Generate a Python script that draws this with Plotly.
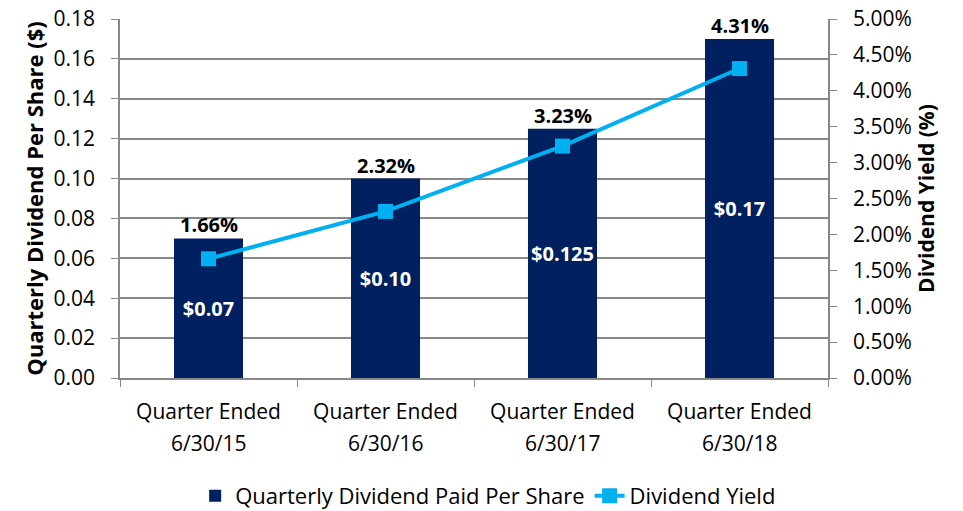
import plotly.graph_objects as go

quarter_dates = ["6/30/15", "6/30/16", "6/30/17", "6/30/18"]
tick_prefix = "Quarter Ended"
dividend = [0.07, 0.10, 0.125, 0.17]
dividend_labels = ["$0.07", "$0.10", "$0.125", "$0.17"]
yield_pct = [1.66, 2.32, 3.23, 4.31]
yield_labels = ["1.66%", "2.32%", "3.23%", "4.31%"]

FONT = "Open Sans"
FS = 21
fig = go.Figure()
fig.add_trace(go.Bar(
    x=quarter_dates, y=dividend, name="Quarterly Dividend Paid Per Share",
    marker=dict(color="#002060", line=dict(width=0)), width=0.39,
    text=dividend_labels, textposition="inside", insidetextanchor="middle",
    textfont=dict(color="white", size=20, family=FONT, weight="bold"),
    cliponaxis=False,
))
fig.add_trace(go.Scatter(
    x=quarter_dates, y=yield_pct, name="Dividend Yield", yaxis="y2",
    mode="lines+markers",
    line=dict(color="#00B0F0", width=4),
    marker=dict(symbol="square", size=15, color="#00B0F0"),
))
for c, v, t in zip(quarter_dates, dividend, yield_labels):
    fig.add_annotation(x=c, y=v, text=t, showarrow=False, yanchor="bottom",
                       yshift=-2, font=dict(size=20, family=FONT, color="black", weight="bold"))
for c in quarter_dates:
    fig.add_annotation(x=c, y=0, yref="paper", text=c, showarrow=False,
                       yanchor="middle", yshift=-65, font=dict(size=FS, family=FONT, color="black"))

fig.update_layout(
    width=963, height=511,
    margin=dict(l=120, r=135, t=19, b=133, autoexpand=False),
    plot_bgcolor="white", paper_bgcolor="white",
    font=dict(family=FONT, size=FS, color="black"),
    bargap=0.61,
    showlegend=True,
    legend=dict(orientation="h", x=0.52, xanchor="center", y=-0.27, yanchor="top",
                font=dict(size=22), tracegroupgap=0),
    xaxis=dict(tickson="boundaries", ticks="outside", ticklen=7, tickcolor="#888888",
               tickmode="array", tickvals=quarter_dates, ticktext=[tick_prefix] * len(quarter_dates),
               ticklabelstandoff=14,
               showline=True, linecolor="#888888", linewidth=1.5,
               showgrid=False, tickfont=dict(size=FS)),
    yaxis=dict(range=[0, 0.18], dtick=0.02, tickformat=".2f",
               title=dict(text="<b>Quarterly Dividend Per Share ($)</b>", font=dict(size=22), standoff=4),
               showgrid=True, gridcolor="#888888", gridwidth=1.5,
               showline=True, linecolor="#888888", linewidth=1.5, ticklabelstandoff=12,
               ticks="outside", ticklen=7, tickcolor="#888888", zeroline=False),
    yaxis2=dict(range=[0, 5], dtick=0.5, overlaying="y", side="right",
                ticksuffix="%", tickformat=".2f",
                title=dict(text="<b>Dividend Yield (%)</b>", font=dict(size=21), standoff=6),
                showgrid=False, showline=True, linecolor="#888888", linewidth=1.5,
                ticklabelstandoff=12,
                ticks="outside", ticklen=7, tickcolor="#888888", zeroline=False),
)
fig.write_html("out.html")
